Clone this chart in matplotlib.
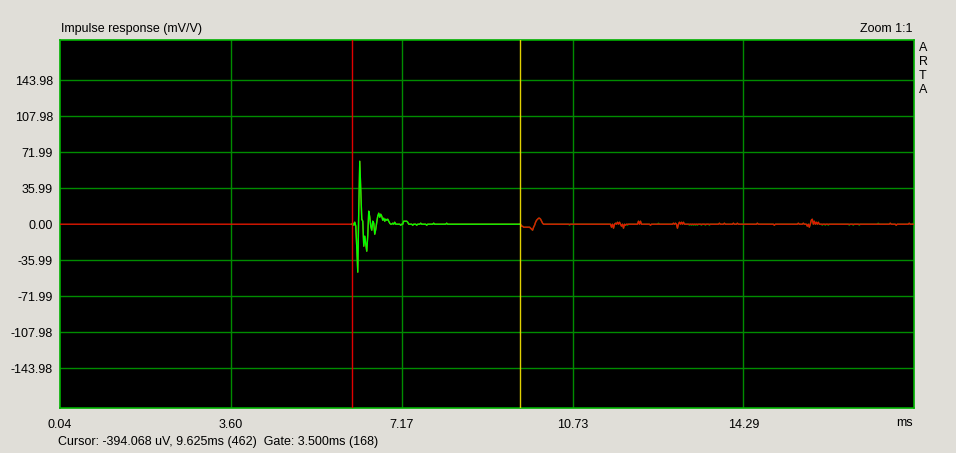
import numpy as np
import matplotlib
matplotlib.use("Agg")
import matplotlib.pyplot as plt

# ARTA style impulse response, 48 kHz samples, values in mV/V
fs_khz = 48.0
first_sample = 2
last_sample = 857
gate_start = 294      # 6.125 ms
cursor_sample = 462   # 9.625 ms

# samples right after gate start (dense)
gate_mv = [0, 1, -1, 2, -2, -23, -48, 15, 63, 34, 5, 3, -22, -12, -20, -27,
           -11, 13, 7, -2, -6, 3, 1, -10, -5, 2, 8, 11, 7, 10, 8, 4, 6, 3,
           5, 4, 5, 3, 1, 0, 0, 1, 0, 2, 0, 0]
# small bumps later in the gate (offset from gate start)
gate_bump_k = [49, 52, 53, 54, 55, 56, 61, 65, 69, 75, 82, 95]
gate_bump_mv = [-1, 3, 3, 3, 3, 2, -1, -1, 1, -1, 1, 1]

# tail after the cursor (red trace)
tail_n = [464, 465, 466, 467, 468, 469, 470, 471, 472, 473, 474, 475, 476,
          477, 478, 479, 480, 481, 482, 483, 484, 485,
          554, 556, 558, 560, 562, 564, 566, 568, 581, 583, 593,
          616, 618, 620, 622, 624, 626, 662, 667, 676, 680, 700, 717,
          741, 746, 750, 752, 754, 755, 757, 759, 761, 833, 839, 852]
tail_mv = [-2, -2, -3, -3, -3, -3, -3, -3, -3, -4, -5, -6, -3,
           -1, 2, 4, 5, 6, 6, 5, 3, 1,
           -3, -4, 1, 2, 2, -2, -4, -1, 3, 3, -1,
           1, 1, -4, 2, 2, 2, 1, 1, 1, 1, 1, -1,
           1, 1, -2, -3, 4, 5, 3, 2, 2, 1, -1, 1]
# raw (unsmoothed) tail showing through in dark green
raw_n = [512, 570, 601, 632, 634, 636, 638, 640, 644, 648, 652,
         765, 768, 771, 792, 796, 802, 821, 856]
raw_mv = [-1, -1, 1, -1, -1, -1, -1, -1, -1, -1, -1,
          -1, -1, -1, -1, -1, -1, 1, 1]

x_ticks = [0.04, 3.60, 7.17, 10.73, 14.29]
y_ticks = [-143.98, -107.98, -71.99, -35.99, 0.0, 35.99, 71.99, 107.98, 143.98]

# build sample arrays
n = np.arange(first_sample, last_sample + 1)
t = n / fs_khz
y = np.zeros(len(n))
for k, v in enumerate(gate_mv):
    y[gate_start + k - first_sample] = v
for k, v in zip(gate_bump_k, gate_bump_mv):
    y[gate_start + k - first_sample] = v
for s, v in zip(tail_n, tail_mv):
    y[s - first_sample] = v
y_raw = y.copy()
for s, v in zip(raw_n, raw_mv):
    y_raw[s - first_sample] = v

bg = "#E0DED8"
grid_c = "#008C00"
W, H = 956, 453
fsz = 9

fig = plt.figure(figsize=(W / 100, H / 100), dpi=100, facecolor=bg)
ax = fig.add_axes([60 / W, 1 - 408 / H, 854 / W, 368 / H])
ax.set_facecolor("black")
ax.set_xlim(0.04, 17.85)
ax.set_ylim(-184, 184.4)

for xv in x_ticks[1:]:
    ax.axvline(xv, color=grid_c, lw=1.0, zorder=1)
for yv in y_ticks:
    if yv != 0:
        ax.axhline(yv, color=grid_c, lw=1.0, zorder=1)

# traces
after = n >= cursor_sample
ax.plot(t[after], y_raw[after], color="#009000", lw=1.0, zorder=2)
ax.plot(t, y, color="#E01800", lw=1.0, zorder=3)
gate = (n >= gate_start) & (n <= cursor_sample)
ax.plot(t[gate], y[gate], color="#00FF00", lw=1.0, zorder=4)

ax.axvline(gate_start / fs_khz, color="#E00000", lw=1.0, zorder=5)
ax.axvline(cursor_sample / fs_khz, color="#E0D000", lw=1.0, zorder=5)

for sp in ax.spines.values():
    sp.set_color("#00B000")
    sp.set_linewidth(1.2)

ax.set_xticks(x_ticks)
ax.set_xticklabels(["%.2f" % v for v in x_ticks])
ax.set_yticks(y_ticks)
ax.set_yticklabels(["%.2f" % v for v in y_ticks])
ax.tick_params(length=0, labelsize=fsz, colors="black", pad=5)
ax.tick_params(axis="x", pad=8)
for lab in ax.get_xticklabels() + ax.get_yticklabels():
    lab.set_family("Liberation Sans")

def ftext(px, py, s, **kw):
    fig.text(px / W, 1 - py / H, s, fontsize=fsz, family="Liberation Sans",
             va="center", **kw)

ftext(61, 29, "Impulse response (mV/V)", ha="left")
ftext(913, 29, "Zoom 1:1", ha="right")
for i, ch in enumerate("ARTA"):
    ftext(923, 48 + i * 14, ch, ha="center")
ftext(913, 423, "ms", ha="right")
ftext(58, 442, "Cursor: -394.068 uV, 9.625ms (462)  Gate: 3.500ms (168)", ha="left")

fig.savefig("out.png", dpi=100, facecolor=bg)
